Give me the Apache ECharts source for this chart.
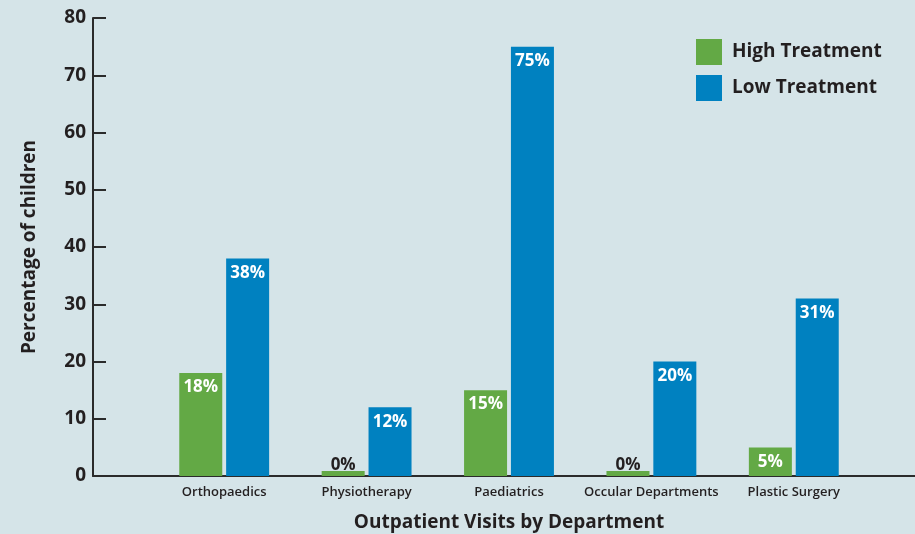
<!DOCTYPE html>
<html>
<head>
<meta charset="utf-8">
<script src="https://cdn.jsdelivr.net/npm/echarts@6/dist/echarts.min.js"></script>
<style>
  html, body { margin: 0; padding: 0; background: #d5e4e8; }
  #chart { width: 915px; height: 534px; }
</style>
</head>
<body>
<div id="chart"></div>
<script>
// Outpatient visits by department, share of children per treatment group
const departments = ['Orthopaedics', 'Physiotherapy', 'Paediatrics', 'Occular Departments', 'Plastic Surgery'];
const highTreatment = [18, 0, 15, 0, 5];
const lowTreatment = [38, 12, 75, 20, 31];
const yTicks = { min: 0, max: 80, interval: 10 };

const FONT = 'Open Sans';
const INK = '#231f20';

function barData(values) {
  // zero-valued bars keep a sliver and carry a dark label above them
  return values.map(v => v === 0
    ? { value: v, label: { position: 'top', distance: -3, color: INK } }
    : v);
}

const labelStyle = {
  show: true,
  position: 'insideTop',
  distance: 6,
  color: '#ffffff',
  fontFamily: FONT,
  fontWeight: 'bold',
  fontSize: 17,
  formatter: p => p.value + '%'
};

const chart = echarts.init(document.getElementById('chart'), null, { renderer: 'canvas' });
chart.setOption({
  backgroundColor: '#d5e4e8',
  animation: false,
  textStyle: { fontFamily: FONT, color: INK },
  legend: {
    orient: 'vertical',
    left: 696,
    top: 39,
    padding: 0,
    itemWidth: 26,
    itemHeight: 26,
    itemGap: 10,
    icon: 'rect',
    textStyle: { fontFamily: FONT, fontWeight: 'bold', fontSize: 19, color: INK, padding: [3, 0, 0, 5] },
    data: ['High Treatment', 'Low Treatment']
  },
  grid: [
    { left: 153, right: 50, top: 18, bottom: 58, containLabel: false, outerBoundsMode: 'none' },
    { left: 93, right: 0, top: 18, bottom: 58, containLabel: false, outerBoundsMode: 'none' }
  ],
  xAxis: [
    {
      type: 'category',
      gridIndex: 0,
      data: departments,
      axisLine: { show: false },
      axisTick: { show: false },
      axisLabel: { interval: 0, margin: 10, fontFamily: FONT, fontWeight: 600, fontSize: 13, color: INK },
      name: 'Outpatient Visits by Department',
      nameLocation: 'middle',
      nameGap: 37,
      nameTextStyle: { fontFamily: FONT, fontWeight: 'bold', fontSize: 19, color: INK, verticalAlign: 'top' }
    },
    {
      type: 'category',
      gridIndex: 1,
      data: [''],
      axisLine: { show: true, lineStyle: { color: '#2b2b2b', width: 2 } },
      axisTick: { show: false },
      axisLabel: { show: false }
    }
  ],
  yAxis: [
    {
      type: 'value',
      gridIndex: 0,
      min: yTicks.min,
      max: yTicks.max,
      interval: yTicks.interval,
      offset: 60,
      axisLine: { show: true, lineStyle: { color: '#2b2b2b', width: 2 } },
      axisTick: { show: true, inside: true, length: 13, lineStyle: { color: '#2b2b2b', width: 2 } },
      splitLine: { show: false },
      axisLabel: { margin: 7, fontFamily: FONT, fontWeight: 'bold', fontSize: 19, color: INK },
      name: 'Percentage of children',
      nameLocation: 'middle',
      nameGap: 54,
      nameRotate: 90,
      nameTextStyle: { fontFamily: FONT, fontWeight: 'bold', fontSize: 19, color: INK }
    },
    {
      type: 'value',
      gridIndex: 1,
      min: yTicks.min,
      max: yTicks.max,
      show: false
    }
  ],
  series: [
    {
      name: 'High Treatment',
      type: 'bar',
      xAxisIndex: 0,
      yAxisIndex: 0,
      barWidth: 43,
      barGap: '9%',
      barMinHeight: 5,
      itemStyle: { color: '#63a945' },
      label: labelStyle,
      data: barData(highTreatment)
    },
    {
      name: 'Low Treatment',
      type: 'bar',
      xAxisIndex: 0,
      yAxisIndex: 0,
      barWidth: 43,
      barGap: '9%',
      barMinHeight: 5,
      itemStyle: { color: '#0081c0' },
      label: labelStyle,
      data: barData(lowTreatment)
    }
  ]
});
</script>
</body>
</html>
